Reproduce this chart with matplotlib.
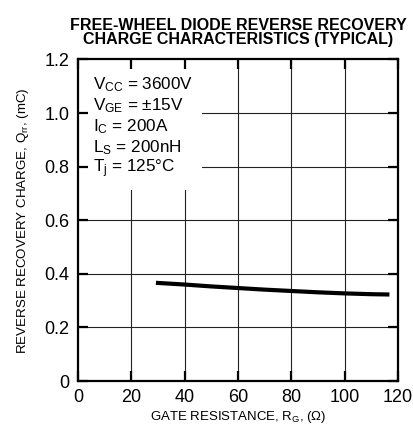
import numpy as np
import matplotlib
matplotlib.use("Agg")
import matplotlib.pyplot as plt
from matplotlib.patches import Rectangle

plt.rcParams['font.family'] = ['Liberation Sans', 'DejaVu Sans']
plt.rcParams['mathtext.fontset'] = 'custom'
plt.rcParams['mathtext.rm'] = 'Liberation Sans'
plt.rcParams['mathtext.it'] = 'Liberation Sans'

# krzywa Qrr(Rg)
rg = [30, 40, 50, 60, 70, 80, 90, 100, 110, 116]
qrr = [0.366, 0.360, 0.353, 0.347, 0.341, 0.336, 0.331, 0.327, 0.324, 0.323]

xticks = [0, 20, 40, 60, 80, 100, 120]
yticks = [0, 0.2, 0.4, 0.6, 0.8, 1.0, 1.2]
ytick_labels = ["0", "0.2", "0.4", "0.6", "0.8", "1.0", "1.2"]

conditions = ["V$_{\\mathrm{CC}}$ = 3600V",
              "V$_{\\mathrm{GE}}$ = \u00b115V",
              "I$_{\\mathrm{C}}$ = 200A",
              "L$_{\\mathrm{S}}$ = 200nH",
              "T$_{\\mathrm{j}}$ = 125\u00b0C"]

fig = plt.figure(figsize=(4.14, 4.28), dpi=100)
ax = fig.add_axes([0.1884, 0.1098, 0.7730, 0.7512])
ax.set_xlim(0, 120)
ax.set_ylim(0, 1.2)
ax.set_axisbelow(False)

# siatka rysowana recznie, zeby biale pole z opisem ja zaslanialo
for x in xticks[1:-1]:
    ax.axvline(x, color='#222222', lw=0.8, zorder=1)
for y in yticks[1:-1]:
    ax.axhline(y, color='#222222', lw=0.8, zorder=1)
ax.add_patch(Rectangle((0, 0.713), 46.5, 0.5, facecolor='white',
                       edgecolor='none', zorder=1.5))

ax.plot(rg, qrr, color='black', lw=3.0, zorder=3)

ax.set_xticks(xticks)
ax.set_yticks(yticks)
ax.set_yticklabels(ytick_labels)
ax.tick_params(direction='in', length=7, width=1.6, labelsize=13,
               top=True, right=True, pad=6)
for s in ax.spines.values():
    s.set_linewidth(1.6)

ax.set_xlabel("GATE RESISTANCE, R$_{\\mathrm{G}}$, ($\\Omega$)", fontsize=9.5, labelpad=2)
ax.set_ylabel("REVERSE RECOVERY CHARGE, Q$_{\\mathrm{rr}}$, (mC)", fontsize=9.6, labelpad=10)

ax.set_title("FREE-WHEEL DIODE REVERSE RECOVERY\nCHARGE CHARACTERISTICS (TYPICAL)",
             fontsize=11.5, fontweight='bold', linespacing=0.95, pad=11)

for i, txt in enumerate(conditions):
    ax.text(5.5, 1.105 - i * 0.078, txt, fontsize=12.3, va='center', ha='left', zorder=4)

fig.savefig("out.png", dpi=100)
